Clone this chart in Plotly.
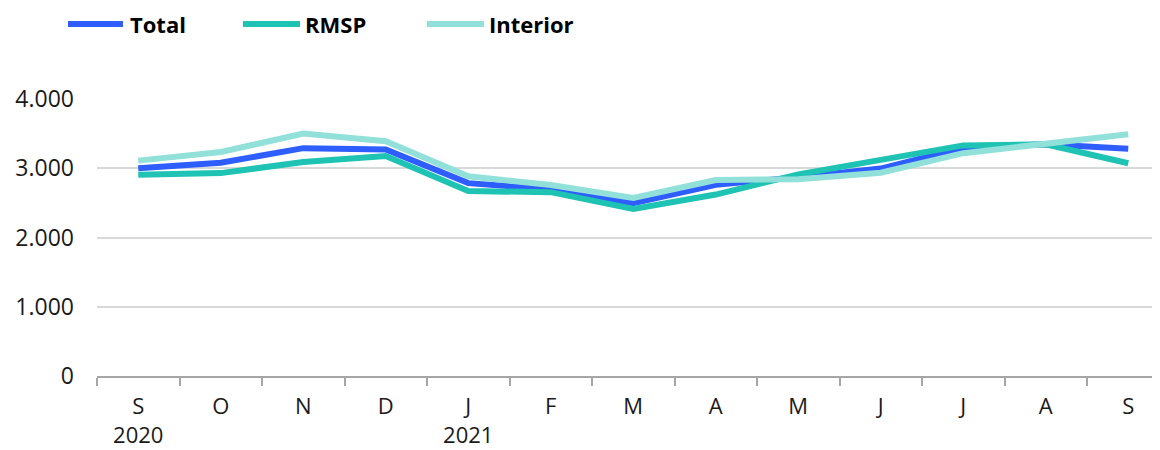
import plotly.graph_objects as go

# ---- data ----
periods = ["2020-09", "2020-10", "2020-11", "2020-12", "2021-01", "2021-02", "2021-03",
           "2021-04", "2021-05", "2021-06", "2021-07", "2021-08", "2021-09"]
month_labels = ["S", "O", "N", "D", "J", "F", "M", "A", "M", "J", "J", "A", "S"]
year_labels = ["2020", "", "", "", "2021", "", "", "", "", "", "", "", ""]

total = [3000, 3080, 3290, 3272, 2785, 2695, 2495, 2762, 2870, 2995, 3295, 3345, 3280]
rmsp = [2905, 2930, 3090, 3176, 2670, 2655, 2412, 2620, 2912, 3110, 3330, 3345, 3072]
interior = [3110, 3235, 3500, 3390, 2885, 2757, 2572, 2830, 2842, 2935, 3218, 3348, 3490]

series_names = ["Total", "RMSP", "Interior"]
series_values = [total, rmsp, interior]
colors = ["#2E5EFF", "#1EC3B4", "#91E1DA"]

y_ticks = [0, 1000, 2000, 3000, 4000]

# ---- layout geometry (page has an 8px body margin) ----
OFF = 8
W, H = 1160 - OFF, 450 - OFF
L, R, T, B = 97 - OFF, 0, 99 - OFF, 74
PW, PH = W - L - R, H - T - B

def px_x(px):
    # page pixel -> paper x
    return (px - OFF - L) / PW

def px_y(py):
    # page pixel -> paper y
    return (H - B - (py - OFF)) / PH

FONT = "Open Sans"

fig = go.Figure()
for name, vals, col in zip(series_names, series_values, colors):
    fig.add_trace(go.Scatter(
        x=periods, y=vals, name=name, mode="lines",
        line=dict(color=col, width=6),
        showlegend=False,
    ))

ticktext = [m + ("<br>" + y if y else "") for m, y in zip(month_labels, year_labels)]

fig.update_layout(
    width=W, height=H,
    margin=dict(l=L, r=R, t=T, b=B),
    paper_bgcolor="white", plot_bgcolor="white",
    separators=",.",
    font=dict(family=FONT, size=23, color="#1a1a1a"),
    xaxis=dict(
        type="category",
        categoryorder="array", categoryarray=periods,
        tickmode="array", tickvals=periods, ticktext=ticktext,
        tickson="boundaries",
        ticks="outside", ticklen=8, tickwidth=1.5, tickcolor="#A6A6A6",
        showline=True, linecolor="#A6A6A6", linewidth=1.5,
        showgrid=False, zeroline=False,
        range=[-0.5, -0.5 + PW / 82.5],
        ticklabelstandoff=10,
        automargin=False,
        tickfont=dict(family=FONT, size=22, color="#1a1a1a"),
    ),
    yaxis=dict(
        range=[0, 4000],
        tickmode="array", tickvals=y_ticks,
        tickformat=",d",
        showgrid=True, gridcolor="#D9D9D9", gridwidth=1.5,
        showline=False, zeroline=False, ticks="",
        ticklabelstandoff=22,
        automargin=False,
        tickfont=dict(family=FONT, size=23, color="#1a1a1a"),
    ),
    showlegend=False,
)

# ---- custom legend (line samples + bold labels), page pixel positions ----
legend_items = [(68, 123, 128), (243, 300, 303), (427, 484, 487)]
ly = 24
for (x0, x1, xt), name, col in zip(legend_items, series_names, colors):
    fig.add_shape(type="line", xref="paper", yref="paper",
                  x0=px_x(x0), x1=px_x(x1), y0=px_y(ly), y1=px_y(ly),
                  line=dict(color=col, width=6))
    fig.add_annotation(xref="paper", yref="paper", x=px_x(xt), y=px_y(ly),
                       xanchor="left", yanchor="middle", showarrow=False,
                       text="<b>" + name + "</b>",
                       font=dict(family=FONT, size=22, color="black"))

fig.write_html("out.html")
